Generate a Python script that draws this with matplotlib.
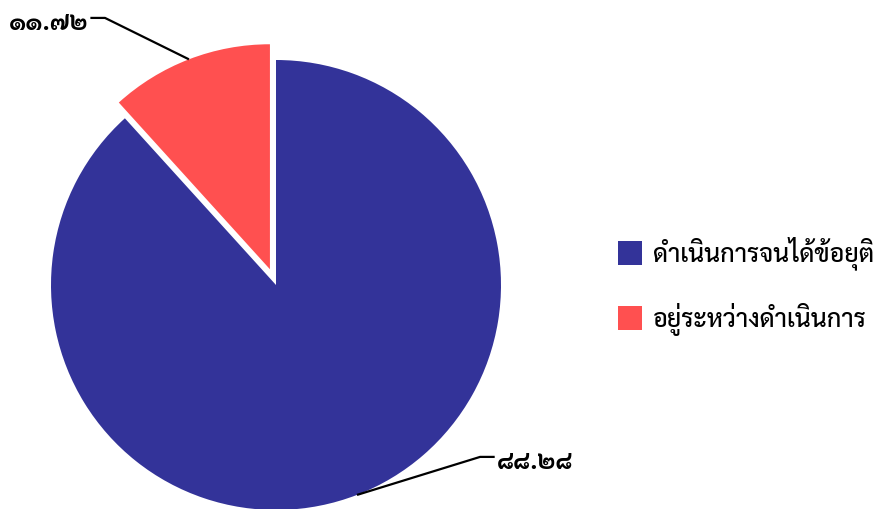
import matplotlib
matplotlib.use("Agg")
import numpy as np
import matplotlib.pyplot as plt
from matplotlib.lines import Line2D

plt.rcParams["font.family"] = ["Sarabun", "DejaVu Sans"]

# ข้อมูล
categories = ["ดำเนินการจนได้ข้อยุติ", "อยู่ระหว่างดำเนินการ"]
values = [88.28, 11.72]
value_labels = ["๘๘.๒๘", "๑๑.๗๒"]
colors = ["#333399", "#ff5050"]

W, H = 880, 509
fig = plt.figure(figsize=(W / 100, H / 100), dpi=100)

# พื้นที่วงกลม: จุดศูนย์กลาง (276, 285) px รัศมี 225 px
cx, cy, r = 276, 285, 225
ax = fig.add_axes([(cx - r) / W, (H - cy - r) / H, 2 * r / W, 2 * r / H])
wedges, _ = ax.pie(values, colors=colors, startangle=90, counterclock=False,
                   explode=[0, 0.075], radius=1,
                   wedgeprops=dict(linewidth=0))
ax.set_xlim(-1, 1)
ax.set_ylim(-1, 1)
ax.set_axis_off()
for w in wedges:
    w.set_clip_on(False)

# เส้นชี้ป้ายกำกับ (ตำแหน่งข้อศอกและทิศทางข้อความ)
elbows = [(0.907, -0.764, 1), (-0.76, 1.187, -1)]
for w, lab, (ex, ey, side) in zip(wedges, value_labels, elbows):
    ang = np.deg2rad((w.theta1 + w.theta2) / 2)
    ox, oy = w.center
    sx = ox + w.r * np.cos(ang)
    sy = oy + w.r * np.sin(ang)
    hx = ex + side * 0.065
    ax.plot([sx, ex, hx], [sy, ey, ey], color="black", lw=1.6,
            clip_on=False, solid_capstyle="butt")
    ax.text(hx + side * 0.01, ey - 0.025, lab, ha="left" if side > 0 else "right",
            va="center", fontsize=18, fontweight="bold", color="black")

handles = [Line2D([], [], marker="s", linestyle="none", markersize=17,
                  markerfacecolor=c, markeredgewidth=0) for c in colors]
fig.legend(handles, categories, loc="center left",
           bbox_to_anchor=(590 / W, (H - 286) / H), frameon=False,
           prop=dict(size=18, weight="medium"), handletextpad=0.2,
           labelspacing=1.3, handlelength=1.4)

fig.savefig("out.png", dpi=100)
